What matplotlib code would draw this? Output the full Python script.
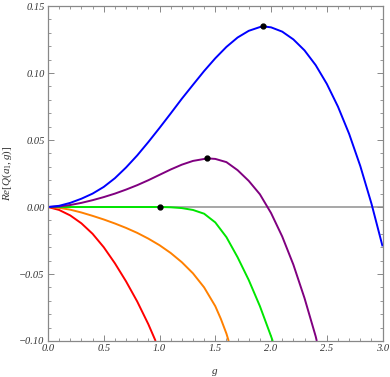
import matplotlib
matplotlib.use("Agg")
import matplotlib.pyplot as plt
from matplotlib.ticker import MultipleLocator, FuncFormatter

plt.rcParams['font.family'] = ['Liberation Serif', 'DejaVu Serif']
plt.rcParams['mathtext.fontset'] = 'custom'
plt.rcParams['mathtext.it'] = 'Liberation Serif:italic'
plt.rcParams['mathtext.rm'] = 'Liberation Serif'

# curves: g values and Re[Q(a1,g)]
g_blue = [0.0, 0.1, 0.2, 0.3, 0.4, 0.5, 0.6, 0.7, 0.8, 0.9, 1.0, 1.1, 1.2, 1.3, 1.4, 1.5,
          1.6, 1.7, 1.8, 1.9, 1.93, 2.0, 2.1, 2.2, 2.3, 2.4, 2.5, 2.6, 2.7, 2.8, 2.9, 3.0]
q_blue = [0.0, 0.0009, 0.0031, 0.0062, 0.0100, 0.0150, 0.0215, 0.0295, 0.0385, 0.0485,
          0.0590, 0.0698, 0.0808, 0.0912, 0.1015, 0.1110, 0.1195, 0.1265, 0.1315, 0.1343,
          0.1348, 0.1341, 0.1309, 0.1251, 0.1169, 0.1059, 0.0919, 0.0749, 0.0546, 0.0306,
          0.0026, -0.0294]

g_purple = [0.0, 0.1, 0.2, 0.3, 0.4, 0.5, 0.6, 0.7, 0.8, 0.9, 1.0, 1.1, 1.2, 1.3, 1.43,
            1.5, 1.6, 1.7, 1.8, 1.9, 2.0, 2.1, 2.2, 2.3, 2.4, 2.41]
q_purple = [0.0, 0.0004, 0.0015, 0.0031, 0.0051, 0.0074, 0.0100, 0.0130, 0.0163, 0.0200,
            0.0240, 0.0280, 0.0316, 0.0344, 0.0363, 0.0359, 0.0335, 0.0275, 0.0195, 0.0095,
            -0.0045, -0.0220, -0.0430, -0.0680, -0.0965, -0.1]

g_green = [0.0, 0.5, 1.0, 1.1, 1.2, 1.3, 1.4, 1.5, 1.6, 1.7, 1.8, 1.9, 2.0, 2.015]
q_green = [0.0, 0.0, 0.0, -0.0002, -0.0008, -0.0022, -0.0050, -0.0115, -0.0225, -0.0375,
           -0.0545, -0.0740, -0.0965, -0.1]

g_orange = [0.0, 0.1, 0.2, 0.3, 0.4, 0.5, 0.6, 0.7, 0.8, 0.9, 1.0, 1.1, 1.2, 1.3, 1.4,
            1.5, 1.55, 1.6, 1.62]
q_orange = [0.0, -0.0006, -0.0020, -0.0041, -0.0066, -0.0093, -0.0123, -0.0156, -0.0193,
            -0.0236, -0.0285, -0.0343, -0.0412, -0.0495, -0.0600, -0.0740, -0.0835,
            -0.0945, -0.1]

g_red = [0.0, 0.1, 0.2, 0.3, 0.4, 0.5, 0.6, 0.7, 0.8, 0.9, 0.965]
q_red = [0.0, -0.0022, -0.0063, -0.0122, -0.0200, -0.0300, -0.0420, -0.0555, -0.0705,
         -0.0875, -0.1]

# marked points (maxima / onset)
g_dots = [1.0, 1.43, 1.93]
q_dots = [0.0, 0.0363, 0.1348]

fig = plt.figure(figsize=(3.9, 3.77), dpi=100)
ax = fig.add_axes([0.123, 0.0955, 0.858, 0.8885])

ax.axhline(0, color='#a0a0a0', lw=1.3, zorder=1)

kw = dict(lw=1.4, zorder=2, solid_joinstyle='round', solid_capstyle='butt')
ax.plot(g_red, q_red, color=(1, 0, 0), **kw)
ax.plot(g_orange, q_orange, color=(1, 0.5, 0), **kw)
ax.plot(g_green, q_green, color=(0, 0.9, 0), **kw)
ax.plot(g_purple, q_purple, color=(0.5, 0, 0.5), **kw)
ax.plot(g_blue, q_blue, color=(0, 0, 1), **kw)
ax.plot(g_dots, q_dots, 'o', color='black', ms=3.5, zorder=3)

ax.set_xlim(0, 3)
ax.set_ylim(-0.10, 0.15)

ax.xaxis.set_major_locator(MultipleLocator(0.5))
ax.xaxis.set_minor_locator(MultipleLocator(0.1))
ax.yaxis.set_major_locator(MultipleLocator(0.05))
ax.yaxis.set_minor_locator(MultipleLocator(0.01))
ax.xaxis.set_major_formatter(FuncFormatter(lambda v, p: ('%.1f' % v).replace('-', '\u2212')))
ax.yaxis.set_major_formatter(FuncFormatter(lambda v, p: ('%.2f' % v).replace('-', '\u2212')))

for s in ax.spines.values():
    s.set_color('#888888')
    s.set_linewidth(0.9)
ax.tick_params(which='both', direction='in', top=True, right=True, colors='#888888',
               labelcolor='#333333', labelsize=7.5, pad=2.5)
ax.tick_params(which='major', length=4, width=0.7)
ax.tick_params(which='minor', length=2, width=0.6)
for lab in ax.get_xticklabels() + ax.get_yticklabels():
    lab.set_fontstyle('italic')

ax.set_xlabel('g', fontstyle='italic', fontsize=8, color='#333333', labelpad=10)
ax.set_ylabel(r'$Re[Q(a_1,g)]$', fontsize=8, color='#333333', labelpad=4)

fig.savefig('out.png', dpi=100)
